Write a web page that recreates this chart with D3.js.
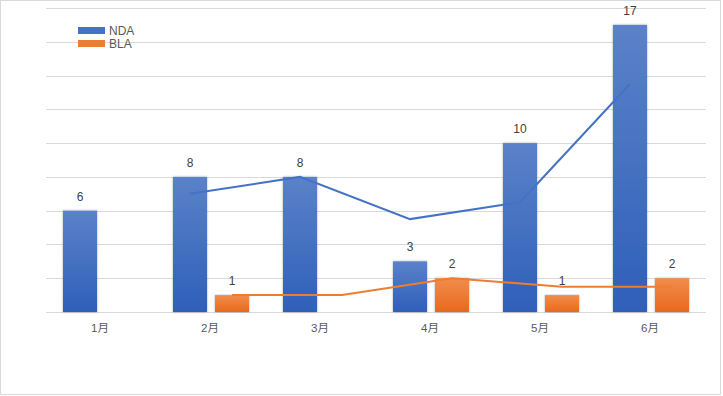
<!DOCTYPE html>
<html lang="zh">
<head>
<meta charset="UTF-8">
<title>NDA / BLA</title>
<script src="https://d3js.org/d3.v7.min.js"></script>
<style>
  body { margin: 0; background: #fff; }
  svg { display: block; font-family: "Liberation Sans", Arial, "Noto Sans CJK SC", sans-serif; }
  .grid line { stroke: #d9d9d9; stroke-width: 1px; }
  .label { font-size: 12px; fill: #404040; text-anchor: middle; }
  .xlab { font-size: 11.5px; fill: #595959; text-anchor: middle; }
</style>
</head>
<body>
<svg width="723" height="396"></svg>
<script>
// values
var months = ["1月", "2月", "3月", "4月", "5月", "6月"];
var nda = [6, 8, 8, 3, 10, 17];
var bla = [null, 1, null, 2, 1, 2];
// two-period moving-average trendlines as drawn
var ndaTrend = [null, 7, 8, 5.5, 6.5, 13.5];
var blaTrend = [null, 1, 1, 2, 1.5, 1.5];
var yTicks = [0, 2, 4, 6, 8, 10, 12, 14, 16, 18];

var svg = d3.select("svg");

// outer frame
svg.append("rect")
    .attr("x", 0.5).attr("y", 0.5)
    .attr("width", 720).attr("height", 394)
    .attr("fill", "none").attr("stroke", "#d9d9d9");

var plotL = 46, plotR = 706, plotT = 8, plotB = 312;

var x = d3.scaleBand().domain(months).range([plotL, plotR]);
var y = d3.scaleLinear().domain([0, 18]).range([plotB, plotT]);

// bar positions inside each band
var barW = 34;
function blueX(m) { return x(m) + 17; }
function orangeX(m) { return x(m) + 59; }

var defs = svg.append("defs");
function grad(id, c1, c2) {
    var g = defs.append("linearGradient").attr("id", id)
        .attr("x1", 0).attr("y1", 0).attr("x2", 0).attr("y2", 1);
    g.append("stop").attr("offset", "0%").attr("stop-color", c1);
    g.append("stop").attr("offset", "100%").attr("stop-color", c2);
}
grad("gBlue", "#5b82c9", "#2f5fb9");
grad("gOrange", "#f28d4d", "#e8691c");

var f = defs.append("filter").attr("id", "shadow")
    .attr("x", "-20%").attr("y", "-5%").attr("width", "140%").attr("height", "110%");
f.append("feDropShadow").attr("dx", 0).attr("dy", 0).attr("stdDeviation", 1.2)
    .attr("flood-color", "#000").attr("flood-opacity", 0.35);

// gridlines
svg.append("g").attr("class", "grid")
    .selectAll("line").data(yTicks).join("line")
    .attr("x1", plotL).attr("x2", plotR)
    .attr("y1", function (d) { return Math.round(y(d)) + 0.5; })
    .attr("y2", function (d) { return Math.round(y(d)) + 0.5; });

// bars
svg.append("g").selectAll("rect").data(months).join("rect")
    .attr("x", blueX)
    .attr("y", function (d, i) { return y(nda[i]); })
    .attr("width", barW)
    .attr("height", function (d, i) { return y(0) - y(nda[i]); })
    .attr("fill", "url(#gBlue)")
    .attr("filter", "url(#shadow)");

var blaMonths = months.filter(function (d, i) { return bla[i] != null; });
function blaVal(m) { return bla[months.indexOf(m)]; }

svg.append("g").selectAll("rect").data(blaMonths).join("rect")
    .attr("x", orangeX)
    .attr("y", function (d) { return y(blaVal(d)); })
    .attr("width", barW)
    .attr("height", function (d) { return y(0) - y(blaVal(d)); })
    .attr("fill", "url(#gOrange)")
    .attr("filter", "url(#shadow)");

// trendlines
var ndaLine = d3.line()
    .defined(function (d) { return d != null; })
    .x(function (d, i) { return blueX(months[i]) + barW / 2; })
    .y(function (d) { return y(d); });
var blaLine = d3.line()
    .defined(function (d) { return d != null; })
    .x(function (d, i) { return orangeX(months[i]) + barW / 2; })
    .y(function (d) { return y(d); });

svg.append("path").datum(ndaTrend).attr("d", ndaLine)
    .attr("fill", "none").attr("stroke", "#4472c4").attr("stroke-width", 2);
svg.append("path").datum(blaTrend).attr("d", blaLine)
    .attr("fill", "none").attr("stroke", "#ed7d31").attr("stroke-width", 2);

// data labels
svg.append("g").selectAll("text").data(months).join("text")
    .attr("class", "label")
    .attr("x", function (d) { return blueX(d) + barW / 2; })
    .attr("y", function (d, i) { return y(nda[i]) - 10; })
    .text(function (d, i) { return nda[i]; });

svg.append("g").selectAll("text").data(blaMonths).join("text")
    .attr("class", "label")
    .attr("x", function (d) { return orangeX(d) + barW / 2; })
    .attr("y", function (d) { return y(blaVal(d)) - 10; })
    .text(function (d) { return blaVal(d); });

// x axis labels
svg.append("g").selectAll("text").data(months).join("text")
    .attr("class", "xlab")
    .attr("x", function (d) { return x(d) + x.bandwidth() / 2 - 1; })
    .attr("y", 332)
    .text(function (d) { return d; });

// legend
var legend = [["NDA", "#4472c4"], ["BLA", "#ed7d31"]];
var lg = svg.append("g").selectAll("g").data(legend).join("g")
    .attr("transform", function (d, i) { return "translate(78," + (27 + i * 13) + ")"; });
lg.append("rect").attr("width", 27).attr("height", 7).attr("fill", function (d) { return d[1]; });
lg.append("text").attr("x", 31).attr("y", 8)
    .style("font-size", "12px").attr("fill", "#595959")
    .text(function (d) { return d[0]; });
</script>
</body>
</html>
